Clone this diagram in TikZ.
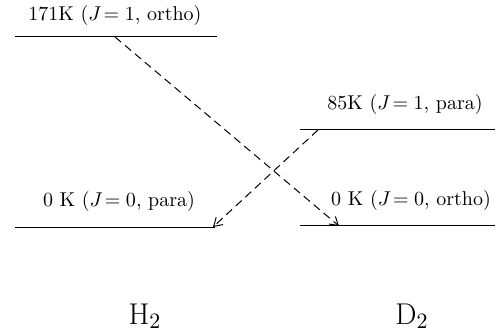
\documentclass[tikz,border=0pt]{standalone}
\usepackage{tikz}
\usetikzlibrary{arrows.meta,positioning}
\tikzset{
  level/.style={line width=0.5pt},
  lvltext/.style={font=\fontsize{10}{12}\selectfont, inner sep=1pt, anchor=south},
  molname/.style={font=\fontsize{15}{18}\selectfont},
  trans/.style={dashed, line width=0.5pt, dash pattern=on 4pt off 2.5pt, -{Straight Barb[length=4pt,width=5pt]}}
}
\begin{document}
\begin{tikzpicture}[x=0.5pt,y=-0.5pt]
  \useasboundingbox (0,0) rectangle (497,330);
  % energy levels
  \coordinate (h1l) at (15,37);   \coordinate (h1r) at (217,37);
  \coordinate (h0l) at (15,228);  \coordinate (h0r) at (215,228);
  \coordinate (d1l) at (300,130); \coordinate (d1r) at (495,130);
  \coordinate (d0l) at (300,226); \coordinate (d0r) at (495,226);
  \draw[level] (h1l) -- (h1r);
  \draw[level] (h0l) -- (h0r);
  \draw[level] (d1l) -- (d1r);
  \draw[level] (d0l) -- (d0r);
  \node[lvltext] (h1txt) at (115,28) {171K ($J\!= 1$, ortho)};
  \node[lvltext] (h0txt) at (119,214) {0 K ($J\!= 0$, para)};
  \node[lvltext] (d1txt) at (405,117) {85K ($J\!= 1$, para)};
  \node[lvltext] (d0txt) at (411,213) {0 K ($J\!= 0$, ortho)};
  % conversions
  \coordinate (a1) at (115,37);  \coordinate (b1) at (339,226);
  \coordinate (a2) at (318,130); \coordinate (b2) at (213,227);
  \draw[trans] (a1) -- (b1);
  \draw[trans] (a2) -- (b2);
  % molecules
  \node[molname] (hname) at (145,316) {H$_2$};
  \node[molname] (dname) at (412,316) {D$_2$};
\end{tikzpicture}
\end{document}
